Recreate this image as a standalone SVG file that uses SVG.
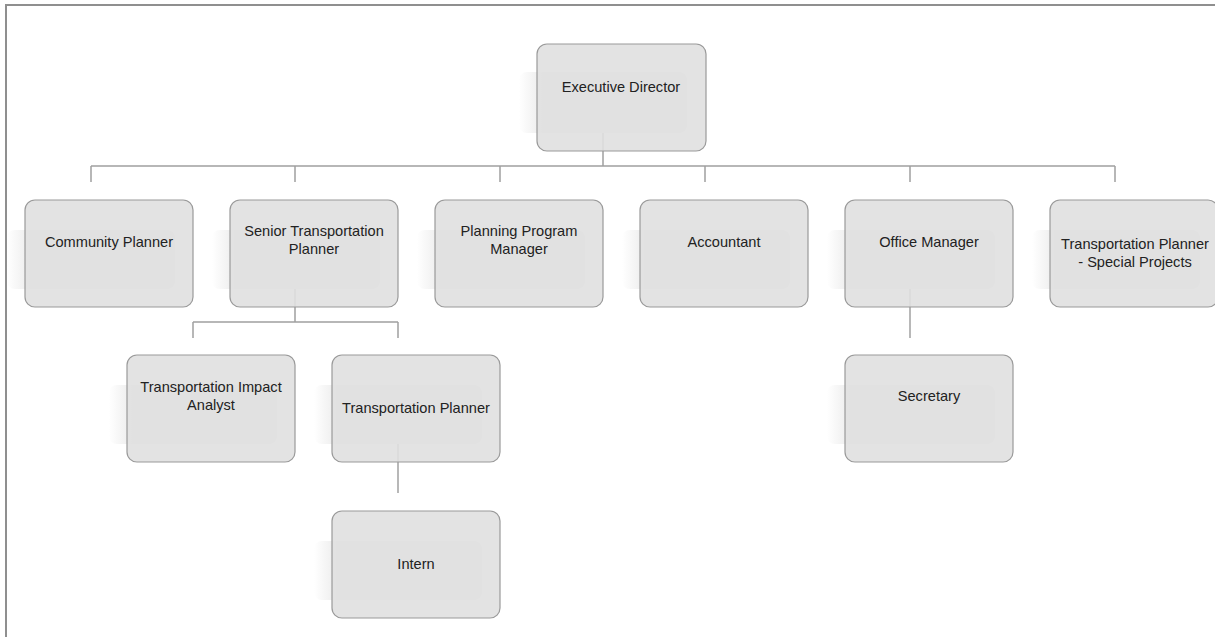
<svg xmlns="http://www.w3.org/2000/svg" width="1215" height="637" viewBox="0 0 1215 637">
<style>
.frame{fill:none;stroke:#8f8f8f;stroke-width:2}
.conn{fill:none;stroke:#a0a0a0;stroke-width:1.5}
.sh{fill:url(#shg)}
.box{fill:#e0e0e0;fill-opacity:0.9;stroke:#9a9a9a;stroke-width:1.2}
.t{font-family:"Liberation Sans",Arial,sans-serif;font-size:14.6px;fill:#222;text-anchor:middle}
</style>
<defs>
<linearGradient id="shg" x1="0" y1="0" x2="1" y2="0">
<stop offset="0" stop-color="#ffffff"/>
<stop offset="0.15" stop-color="#eaeaea"/>
<stop offset="1" stop-color="#e4e4e4"/>
</linearGradient>
</defs>
<rect width="1215" height="637" fill="#ffffff"/>
<rect class="frame" x="6" y="5" width="1220" height="640"/>
<g id="connectors">
<path class="conn" d="M603 133V166M91 166H1115M91 166V182M295 166V182M500 166V182M705 166V182M910 166V182M1115 166V182"/>
<path class="conn" d="M295 289V322M193 322H398M193 322V338M398 322V338"/>
<path class="conn" d="M910 289V338"/>
<path class="conn" d="M398 444V493"/>
</g>
<g id="n-exec"><rect class="sh" x="519" y="72" width="168" height="61" rx="8"/><rect class="box" x="537" y="44" width="169" height="107" rx="10"/><text class="t" x="621" y="92">Executive Director</text></g>
<g id="n-community"><rect class="sh" x="7" y="230" width="168" height="59" rx="8"/><rect class="box" x="25" y="200" width="168" height="107" rx="10"/><text class="t" x="109" y="247">Community Planner</text></g>
<g id="n-senior"><rect class="sh" x="212" y="230" width="168" height="59" rx="8"/><rect class="box" x="230" y="200" width="168" height="107" rx="10"/><text class="t" x="314" y="236">Senior Transportation</text><text class="t" x="314" y="254">Planner</text></g>
<g id="n-ppm"><rect class="sh" x="417" y="230" width="168" height="59" rx="8"/><rect class="box" x="435" y="200" width="168" height="107" rx="10"/><text class="t" x="519" y="236">Planning Program</text><text class="t" x="519" y="254">Manager</text></g>
<g id="n-accountant"><rect class="sh" x="622" y="230" width="168" height="59" rx="8"/><rect class="box" x="640" y="200" width="168" height="107" rx="10"/><text class="t" x="724" y="247">Accountant</text></g>
<g id="n-office"><rect class="sh" x="827" y="230" width="168" height="59" rx="8"/><rect class="box" x="845" y="200" width="168" height="107" rx="10"/><text class="t" x="929" y="247">Office Manager</text></g>
<g id="n-tpsp"><rect class="sh" x="1032" y="230" width="168" height="59" rx="8"/><rect class="box" x="1050" y="200" width="168" height="107" rx="10"/><text class="t" x="1135" y="249">Transportation Planner</text><text class="t" x="1135" y="267">- Special Projects</text></g>
<g id="n-tia"><rect class="sh" x="109" y="385" width="168" height="59" rx="8"/><rect class="box" x="127" y="355" width="168" height="107" rx="10"/><text class="t" x="211" y="392">Transportation Impact</text><text class="t" x="211" y="410">Analyst</text></g>
<g id="n-tp"><rect class="sh" x="314" y="385" width="168" height="59" rx="8"/><rect class="box" x="332" y="355" width="168" height="107" rx="10"/><text class="t" x="416" y="413">Transportation Planner</text></g>
<g id="n-secretary"><rect class="sh" x="827" y="385" width="168" height="59" rx="8"/><rect class="box" x="845" y="355" width="168" height="107" rx="10"/><text class="t" x="929" y="401">Secretary</text></g>
<g id="n-intern"><rect class="sh" x="314" y="541" width="168" height="59" rx="8"/><rect class="box" x="332" y="511" width="168" height="107" rx="10"/><text class="t" x="416" y="569">Intern</text></g>
</svg>
